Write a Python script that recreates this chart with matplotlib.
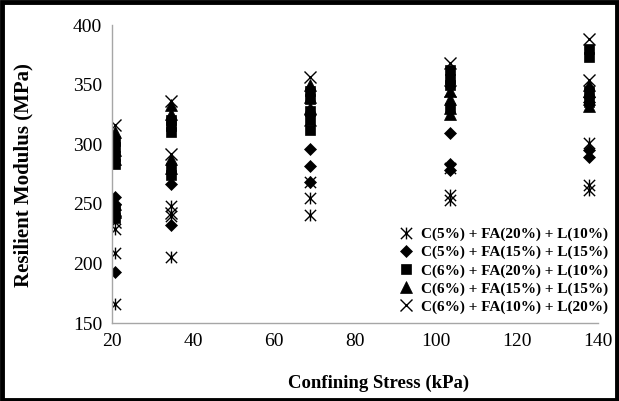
import matplotlib
matplotlib.use("Agg")
import matplotlib.pyplot as plt
from matplotlib.patches import Rectangle
from matplotlib.path import Path

# ── data ─────────────────────────────────────────────────────────────────────
STRESS = [20.7, 34.5, 69.0, 103.4, 137.9]

LABELS = [
    "C(5%) + FA(20%) + L(10%)",
    "C(5%) + FA(15%) + L(15%)",
    "C(6%) + FA(20%) + L(10%)",
    "C(6%) + FA(15%) + L(15%)",
    "C(6%) + FA(10%) + L(20%)",
]

# readings per confining stress level
mix1 = [[229, 209, 166], [248, 240, 205], [268, 255, 241], [280, 257, 253], [301, 266, 262]]
mix2 = [[256, 250, 193], [267, 232], [296, 282, 268], [309, 283, 278], [295, 289, 340, 335]]
mix3 = [[303, 298, 290, 283, 245, 238], [320, 315, 310, 280, 274],
        [345, 338, 328, 320, 312], [362, 355, 350, 330], [380, 373, 345, 335]]
mix4 = [[310, 295, 288, 250, 243], [333, 325, 288, 280], [350, 340, 330],
        [345, 338, 330, 325], [350, 345, 338, 332]]
mix5 = [[316, 245, 235], [336, 292, 242], [356, 320], [368, 345], [388, 354]]

SERIES = [mix1, mix2, mix3, mix4, mix5]

# Excel-style asterisk: an X with a vertical bar through it
STAR = Path([(-1, -1), (1, 1), (-1, 1), (1, -1), (0, -1.05), (0, 1.05)],
            [Path.MOVETO, Path.LINETO, Path.MOVETO, Path.LINETO, Path.MOVETO, Path.LINETO])
MARKERS = [STAR, "D", "s", "^", "x"]
SIZES   = [8.5, 6.5, 7.5, 8, 8.5]

plt.rcParams.update({
    "font.family": ["Liberation Serif", "DejaVu Serif"],
})

fig = plt.figure(figsize=(6.19, 4.01), dpi=100)
ax = fig.add_axes([0.181, 0.1945, 0.785, 0.7431])

for vals, lab, mk, ms in zip(SERIES, LABELS, MARKERS, SIZES):
    xs = [s for s, v in zip(STRESS, vals) for _ in v]
    ys = [y for v in vals for y in v]
    thin = isinstance(mk, Path) or mk == "x"
    ax.plot(xs, ys, linestyle="none", marker=mk, markersize=ms, color="black",
            markeredgecolor="black", markeredgewidth=1.0 if thin else 0.5,
            label=lab)

ax.set_xlim(20, 140)
ax.set_ylim(150, 400)
ax.set_xticks(range(20, 141, 20))
ax.set_yticks(range(150, 401, 50))
ax.tick_params(length=0, labelsize=14, pad=7)

for side in ("top", "right"):
    ax.spines[side].set_visible(False)
for side in ("left", "bottom"):
    ax.spines[side].set_color("#a6a6a6")
    ax.spines[side].set_linewidth(1.0)

fig.text(0.038, 0.564, "Resilient Modulus (MPa)", fontsize=15, fontweight="bold",
         rotation=90, ha="center", va="center")
fig.text(0.612, 0.045, "Confining Stress (kPa)", fontsize=13.5, fontweight="bold",
         ha="center", va="center")

ax.legend(loc="lower right", bbox_to_anchor=(1.04, 0.0), frameon=False,
          prop={"size": 11, "weight": "bold"}, handlelength=1.0,
          handletextpad=0.5, labelspacing=0.28, borderaxespad=0.2)

# black frame round the whole picture
fig.patches.append(Rectangle((0.003, 0.003), 0.994, 0.992, transform=fig.transFigure,
                             fill=False, edgecolor="black", linewidth=3.5))

fig.savefig("out.png", dpi=100)
